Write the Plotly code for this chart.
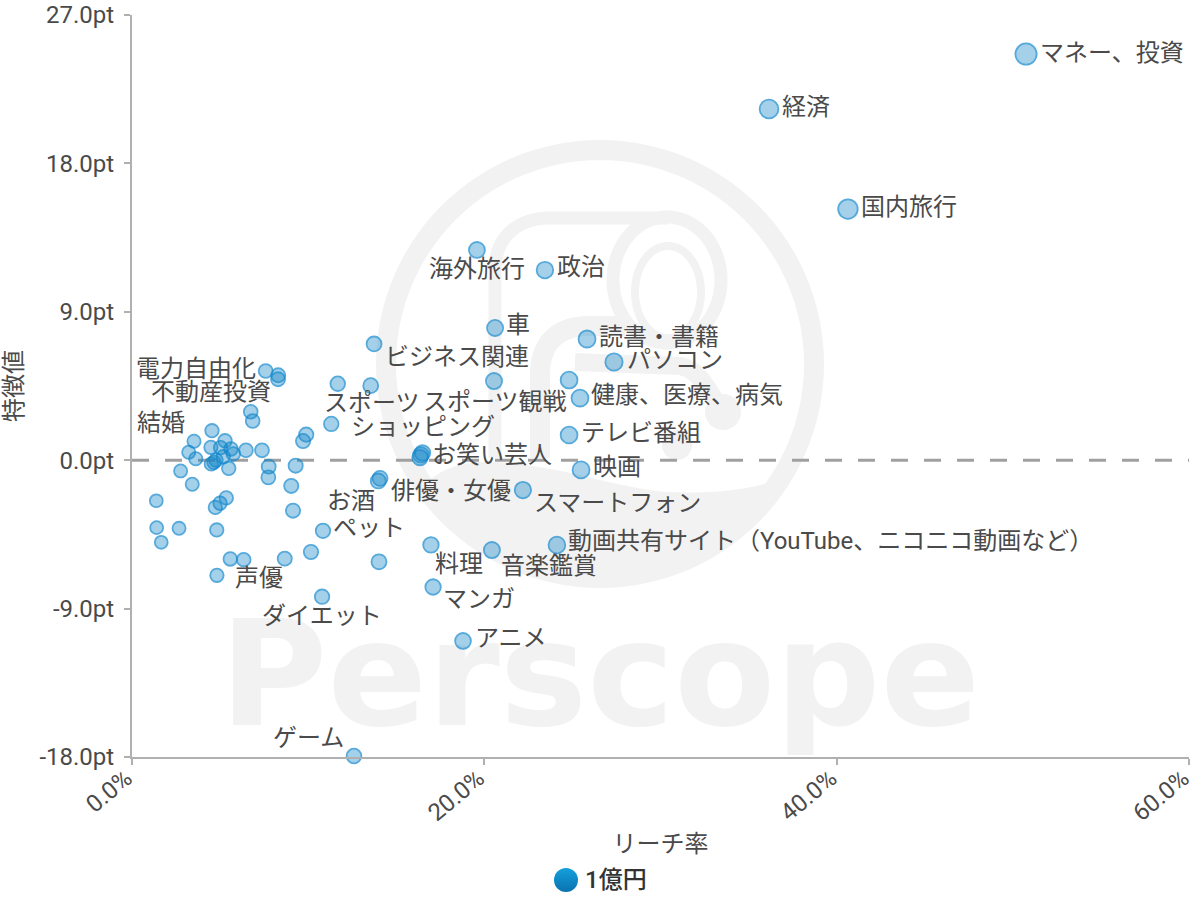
import math
import plotly.graph_objects as go

# ---- data ----
labelled_names = ["マネー、投資", "経済", "国内旅行", "海外旅行", "政治", "車", "読書・書籍", "パソコン",
                  "ビジネス関連", "スポーツ観戦", "スポーツ", "健康、医療、病気", "テレビ番組", "ショッピング",
                  "お笑い芸人", "映画", "俳優・女優", "お酒", "スマートフォン", "ペット",
                  "動画共有サイト（YouTube、ニコニコ動画など）", "音楽鑑賞", "料理", "マンガ", "アニメ",
                  "声優", "ダイエット", "ゲーム", "電力自由化", "不動産投資", "結婚"]
labelled_reach = [50.75, 36.16, 40.64, 19.58, 23.44, 20.61, 25.83, 27.36,
                  13.74, 20.55, 13.55, 25.43, 24.81, 11.31,
                  16.40, 25.49, 14.08, 13.98, 22.19, 10.84,
                  24.12, 20.43, 16.97, 17.09, 18.79,
                  6.34, 10.79, 12.60, 7.59, 8.29, 4.54]
labelled_score = [24.63, 21.30, 15.23, 12.75, 11.53, 8.02, 7.35, 5.96,
                  7.05, 4.80, 4.52, 3.77, 1.53, 2.20,
                  0.32, -0.59, -1.10, -1.26, -1.81, -4.28,
                  -5.14, -5.45, -5.14, -7.69, -10.96,
                  -6.03, -8.28, -17.94, 5.41, 4.91, 1.79]

other_reach = [24.81, 16.49, 16.35, 8.30, 11.68, 6.74, 6.85, 9.89, 9.71, 3.52, 3.22, 3.62, 4.48, 5.28,
               5.03, 5.62, 5.75, 6.47, 7.38, 5.18, 4.77, 4.50, 4.65, 5.49, 7.76, 7.74, 9.29, 9.04,
               2.76, 3.42, 1.38, 5.35, 5.00, 4.73, 9.14, 1.40, 2.67, 4.81, 1.66, 10.16, 8.67, 5.58,
               4.82, 14.02]
other_score = [4.86, 0.44, 0.16, 5.15, 4.64, 2.94, 2.38, 1.55, 1.16, 1.15, 0.48, 0.09, 0.78, 1.18,
               0.76, 0.68, 0.38, 0.60, 0.60, 0.21, 0.01, -0.23, -0.13, -0.49, -0.39, -1.04, -0.33, -1.56,
               -0.65, -1.46, -2.46, -2.29, -2.61, -2.86, -3.06, -4.09, -4.13, -4.23, -4.98, -5.57, -5.97, -5.99,
               -6.98, -6.16]

series_name = "1億円"
x_title = "リーチ率"
y_title = "特徴値"
x_tick_values = [0, 20, 40, 60]
x_tick_labels = ["0.0%", "20.0%", "40.0%", "60.0%"]
y_tick_values = [-18, -9, 0, 9, 18, 27]
y_tick_labels = ["-18.0pt", "-9.0pt", "0.0pt", "9.0pt", "18.0pt", "27.0pt"]

# ---- label placement (pixel offsets from the point), kept apart from the data ----
label_offsets = [(86, 1), (37, 2), (61, 2), (0, -19), (36, 3), (23, 3), (72, 2), (61, 2),
                 (83, -13), (1, -21), (1, -17), (107, 3), (72, 2), (92, -3),
                 (71, 0), (36, 3), (71, -13), (-27, -20), (95, -13), (46, 3),
                 (274, 4), (57, -16), (28, -19), (46, -12), (48, 3),
                 (15, -18), (0, -19), (-45, 18), (-70, 2), (-67, -13), (-51, 8)]

FONT = "Roboto, 'Noto Sans CJK JP', sans-serif"
TEXT = "#4a4a4a"
AXIS = "#b0b0b0"
WM = "#f2f2f2"
W, H = 1200, 900
L, R, T, B = 132, 1189, 15, 895
AXIS_BOTTOM = 757


def P(px, py):
    return f"{(px - L) / (R - L):.5f},{(B - py) / (B - T):.5f}"


def poly(points, close=False):
    s = "M" + " L".join(P(a, b) for a, b in points)
    return s + (" Z" if close else "")


def arc(cx, cy, rx, ry, a0=0, a1=360, n=120):
    return [(cx + rx * math.cos(math.radians(a0 + (a1 - a0) * i / n)),
             cy + ry * math.sin(math.radians(a0 + (a1 - a0) * i / n))) for i in range(n + 1)]


def bez(p0, p1, p2, p3, n=24):
    out = []
    for i in range(n + 1):
        t = i / n
        u = 1 - t
        out.append((u**3 * p0[0] + 3 * u*u*t * p1[0] + 3 * u*t*t * p2[0] + t**3 * p3[0],
                    u**3 * p0[1] + 3 * u*u*t * p1[1] + 3 * u*t*t * p2[1] + t**3 * p3[1]))
    return out


def wm_stroke(points, w, close=False):
    return dict(type="path", xref="paper", yref="paper", layer="below", path=poly(points, close),
                line=dict(color=WM, width=w), fillcolor="rgba(0,0,0,0)")


def wm_fill(points):
    return dict(type="path", xref="paper", yref="paper", layer="below", path=poly(points, True),
                line=dict(width=0), fillcolor=WM)


CX, CY = 600, 364
crescent = (bez((428, 482), (445, 466), (465, 462), (490, 462))
            + bez((490, 462), (560, 464), (620, 490), (670, 492))
            + bez((670, 492), (710, 494), (760, 490), (792, 474))
            + arc(CX, CY, 214, 214, 30, 146))
shapes = [
    wm_stroke(arc(CX, CY, 214, 214), 20, True),
    wm_fill(crescent),
    wm_stroke([(495, 458), (495, 270)] + bez((495, 270), (495, 235), (520, 218), (550, 218))[1:]
              + [(668, 218)], 13),
    wm_stroke(arc(667, 280, 54, 63), 13, True),
    wm_stroke(arc(668, 292, 33, 46), 8, True),
    wm_stroke([(540, 458), (540, 375)] + bez((540, 375), (540, 345), (555, 328), (585, 326))[1:]
              + [(625, 326)], 20),
    wm_stroke([(575, 362), (680, 366)] + bez((680, 366), (700, 370), (708, 390), (722, 412))[1:], 18),
    wm_fill(arc(723, 412, 18, 18)),
    wm_fill(arc(677, 445, 15, 15)),
    # the word mark, as a real text label on an invisible box
    dict(type="rect", xref="paper", yref="paper", layer="below",
         x0=(225 - L) / (R - L), x1=(975 - L) / (R - L),
         y0=(B - 753) / (B - T), y1=(B - 573) / (B - T),
         line=dict(width=0), fillcolor="rgba(0,0,0,0)",
         label=dict(text="Perscope", textposition="middle center",
                    font=dict(family="'DejaVu Sans'", size=147, color=WM, weight="bold"))),
    # dashed zero line
    dict(type="line", xref="x", yref="y", layer="below", x0=0, x1=60, y0=0, y1=0,
         line=dict(color="#a0a0a0", width=3, dash="17px,16px")),
]

all_reach = labelled_reach + other_reach
all_score = labelled_score + other_score

fig = go.Figure()
fig.add_trace(go.Scatter(
    x=all_reach, y=all_score, mode="markers", name=series_name, showlegend=False, cliponaxis=False,
    marker=dict(size=[12.6 + 0.17 * v for v in all_reach], sizemode="diameter",
                color="rgba(20,135,200,0.55)", line=dict(color="#0f86cc", width=1.8)),
))
# legend entry drawn in its own hidden small axes, so its swatch can be larger than a legend symbol
fig.add_trace(go.Scatter(
    x=[0], y=[0], xaxis="x2", yaxis="y2", mode="markers", name=series_name, showlegend=False,
    cliponaxis=False,
    marker=dict(size=24, color="#14a0dc", gradient=dict(type="vertical", color="#0a72b0"), line=dict(width=0)),
))

annotations = [
    dict(x=x, y=y, text=t, showarrow=False, xref="x", yref="y", xanchor="center", yanchor="middle",
         xshift=dx, yshift=dy, font=dict(family=FONT, size=24, color=TEXT))
    for t, x, y, (dx, dy) in zip(labelled_names, labelled_reach, labelled_score, label_offsets)
]
annotations.append(dict(x=0, y=0, xref="x2", yref="y2", text=series_name, showarrow=False, xanchor="left",
                        yanchor="middle", xshift=17, font=dict(family=FONT, size=24, color="#333333", weight=500)))

tickfont = dict(family=FONT, size=24, color=TEXT)
main_bottom = (B - AXIS_BOTTOM) / (B - T)
leg_c_x = (566 - L) / (R - L)
leg_c_y = (B - 880) / (B - T)

fig.update_layout(
    width=W, height=H, autosize=False, margin=dict(l=L, r=W - R, t=T, b=H - B, pad=0),
    paper_bgcolor="white", plot_bgcolor="rgba(0,0,0,0)", showlegend=False,
    shapes=shapes, annotations=annotations,
    xaxis=dict(domain=[0, 1], range=[0, 60], anchor="y", tickmode="array", tickvals=x_tick_values,
               ticktext=x_tick_labels, tickangle=-40, tickfont=tickfont, showgrid=False, zeroline=False,
               showline=True, linecolor=AXIS, linewidth=2, ticks="outside", ticklen=6, tickcolor=AXIS, tickwidth=2,
               ticklabelstandoff=-10, ticklabelshift=-6, ticklabeloverflow="allow",
               title=dict(text=x_title, font=tickfont, standoff=9), automargin=False),
    yaxis=dict(domain=[main_bottom, 1], range=[-18, 27], anchor="x", tickmode="array", tickvals=y_tick_values,
               ticktext=y_tick_labels, tickfont=tickfont, showgrid=False, zeroline=False,
               showline=True, linecolor=AXIS, linewidth=2, ticks="outside", ticklen=6, tickcolor=AXIS, tickwidth=2,
               ticklabelstandoff=5, ticklabeloverflow="allow",
               title=dict(text=y_title, font=tickfont, standoff=12), automargin=False),
    xaxis2=dict(domain=[leg_c_x - 0.01, leg_c_x + 0.01], range=[-1, 1], anchor="y2", visible=False),
    yaxis2=dict(domain=[leg_c_y - 0.012, leg_c_y + 0.012], range=[-1, 1], anchor="x2", visible=False),
)

fig.write_html("out.html", config=dict(displayModeBar=False),
               post_script="document.body.style.margin='0';")
